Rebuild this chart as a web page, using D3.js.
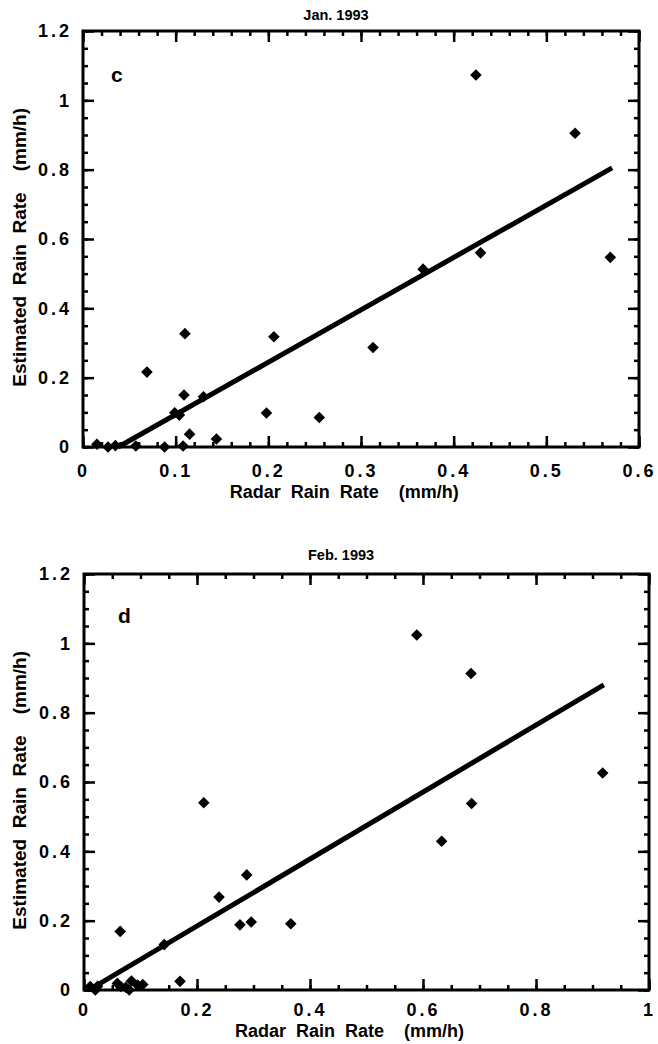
<!DOCTYPE html>
<html>
<head>
<meta charset="utf-8">
<script src="https://cdn.jsdelivr.net/npm/d3@7"></script>
<style>
body { margin: 0; background: #fff; }
svg { display: block; }
text { font-family: "Liberation Sans", Arial, Helvetica, sans-serif; font-weight: bold; fill: #000; }
</style>
</head>
<body>
<svg width="658" height="1044"></svg>
<script>
// Jan. 1993 (panel c)
var janRadar = [0.424, 0.531, 0.429, 0.569, 0.367, 0.313, 0.206, 0.110, 0.069, 0.109, 0.130,
                0.099, 0.104, 0.198, 0.255, 0.115, 0.144, 0.015, 0.027, 0.035, 0.057, 0.088, 0.108];
var janEst   = [1.073, 0.905, 0.560, 0.547, 0.513, 0.287, 0.318, 0.327, 0.216, 0.150, 0.145,
                0.099, 0.092, 0.098, 0.085, 0.037, 0.023, 0.008, 0.000, 0.004, 0.003, 0.000, 0.003];
var janFit   = [[0.038, 0.0], [0.571, 0.805]];

// Feb. 1993 (panel d)
var febRadar = [0.589, 0.685, 0.918, 0.686, 0.633, 0.212, 0.288, 0.239, 0.276, 0.296, 0.366, 0.064,
                0.142, 0.170, 0.011, 0.020, 0.024, 0.059, 0.065, 0.074, 0.080, 0.084, 0.095, 0.104];
var febEst   = [1.024, 0.913, 0.626, 0.538, 0.429, 0.540, 0.332, 0.268, 0.188, 0.196, 0.191, 0.169,
                0.131, 0.025, 0.010, 0.000, 0.011, 0.019, 0.010, 0.008, 0.000, 0.026, 0.014, 0.016];
var febFit   = [[0.012, 0.003], [0.920, 0.880]];

var janXTicks = [0, 0.1, 0.2, 0.3, 0.4, 0.5, 0.6];
var febXTicks = [0, 0.2, 0.4, 0.6, 0.8, 1];
var yTicks = [0, 0.2, 0.4, 0.6, 0.8, 1, 1.2];

var svg = d3.select("svg");

var panels = [
  {title: "Jan. 1993", letter: "c", xs: janRadar, ys: janEst, fit: janFit,
   xTicks: janXTicks, xMinor: 0.02, left: 83, right: 639, top: 31, bottom: 447,
   pad: 17, titleOff: 51, titleY: 11, letterX: 28, letterY: 51},
  {title: "Feb. 1993", letter: "d", xs: febRadar, ys: febEst, fit: febFit,
   xTicks: febXTicks, xMinor: 0.05, left: 84, right: 649, top: 574, bottom: 990,
   pad: 13, titleOff: 47, titleY: 14, letterX: 34, letterY: 49}
];

function fmt(d){ return d === 0 ? "0" : String(+d.toFixed(2)); }
function minors(max, step){ return d3.range(0, max + 1e-9, step).map(v => +v.toFixed(3)); }

panels.forEach(function(p){
  var xMax = p.xTicks[p.xTicks.length - 1];
  var x = d3.scaleLinear().domain([0, xMax]).range([p.left, p.right]);
  var y = d3.scaleLinear().domain([0, 1.2]).range([p.bottom, p.top]);
  var g = svg.append("g");
  var w = p.right - p.left, h = p.bottom - p.top;

  var xMin = minors(xMax, p.xMinor), yMin = minors(1.2, 0.05);

  // inward ticks on all four sides
  function tickAxis(axis, scale, vals, len, tr){
    g.append("g").attr("transform", tr)
      .call(axis(scale).tickValues(vals).tickSize(-len).tickFormat(""))
      .call(s => s.select(".domain").remove())
      .selectAll("line").attr("stroke", "#000").attr("stroke-width", 2.5);
  }
  tickAxis(d3.axisBottom, x, xMin, 5, "translate(0," + p.bottom + ")");
  tickAxis(d3.axisBottom, x, p.xTicks, 11, "translate(0," + p.bottom + ")");
  tickAxis(d3.axisTop, x, xMin, 5, "translate(0," + p.top + ")");
  tickAxis(d3.axisTop, x, p.xTicks, 11, "translate(0," + p.top + ")");
  tickAxis(d3.axisLeft, y, yMin, 5, "translate(" + p.left + ",0)");
  tickAxis(d3.axisLeft, y, yTicks, 11, "translate(" + p.left + ",0)");
  tickAxis(d3.axisRight, y, yMin, 5, "translate(" + p.right + ",0)");
  tickAxis(d3.axisRight, y, yTicks, 11, "translate(" + p.right + ",0)");

  // tick labels
  g.append("g").attr("transform", "translate(0," + p.bottom + ")")
    .call(d3.axisBottom(x).tickValues(p.xTicks).tickSize(0).tickPadding(p.pad).tickFormat(fmt))
    .call(s => s.select(".domain").remove())
    .selectAll("text").attr("font-size", 18).attr("letter-spacing", 3)
    .attr("font-family", "Liberation Sans, Arial, sans-serif").attr("font-weight", "bold");
  g.append("g").attr("transform", "translate(" + p.left + ",0)")
    .call(d3.axisLeft(y).tickValues(yTicks).tickSize(0).tickPadding(11).tickFormat(fmt))
    .call(s => s.select(".domain").remove())
    .selectAll("text").attr("font-size", 18).attr("letter-spacing", 3)
    .attr("font-family", "Liberation Sans, Arial, sans-serif").attr("font-weight", "bold");

  // frame
  g.append("rect").attr("x", p.left).attr("y", p.top).attr("width", w).attr("height", h)
    .attr("fill", "none").attr("stroke", "#000").attr("stroke-width", 3);

  // fit line
  g.append("path").datum(p.fit)
    .attr("d", d3.line().x(d => x(d[0])).y(d => y(d[1])))
    .attr("stroke", "#000").attr("stroke-width", 5).attr("fill", "none");

  // points
  g.selectAll(".pt").data(p.xs).enter().append("path")
    .attr("class", "pt")
    .attr("transform", (d, i) => "translate(" + x(d) + "," + y(p.ys[i]) + ")")
    .attr("d", "M0,-5.8L5.8,0L0,5.8L-5.8,0Z")
    .attr("fill", "#000");

  // texts
  g.append("text").attr("x", p.left + w * 0.455).attr("y", p.top - p.titleY)
    .attr("text-anchor", "middle").attr("font-size", 14.5).text(p.title);
  g.append("text").attr("x", p.left + p.letterX).attr("y", p.top + p.letterY)
    .attr("font-size", 21).text(p.letter);
  g.append("text").attr("x", p.left + w * 0.47).attr("y", p.bottom + p.titleOff)
    .attr("text-anchor", "middle").attr("font-size", 18)
    .attr("xml:space", "preserve").text("Radar  Rain  Rate    (mm/h)");
  g.append("text")
    .attr("transform", "translate(26," + (p.top + h * 0.52) + ") rotate(-90)")
    .attr("text-anchor", "middle").attr("font-size", 19)
    .attr("xml:space", "preserve").text("Estimated  Rain  Rate    (mm/h)");
});
</script>
</body>
</html>
